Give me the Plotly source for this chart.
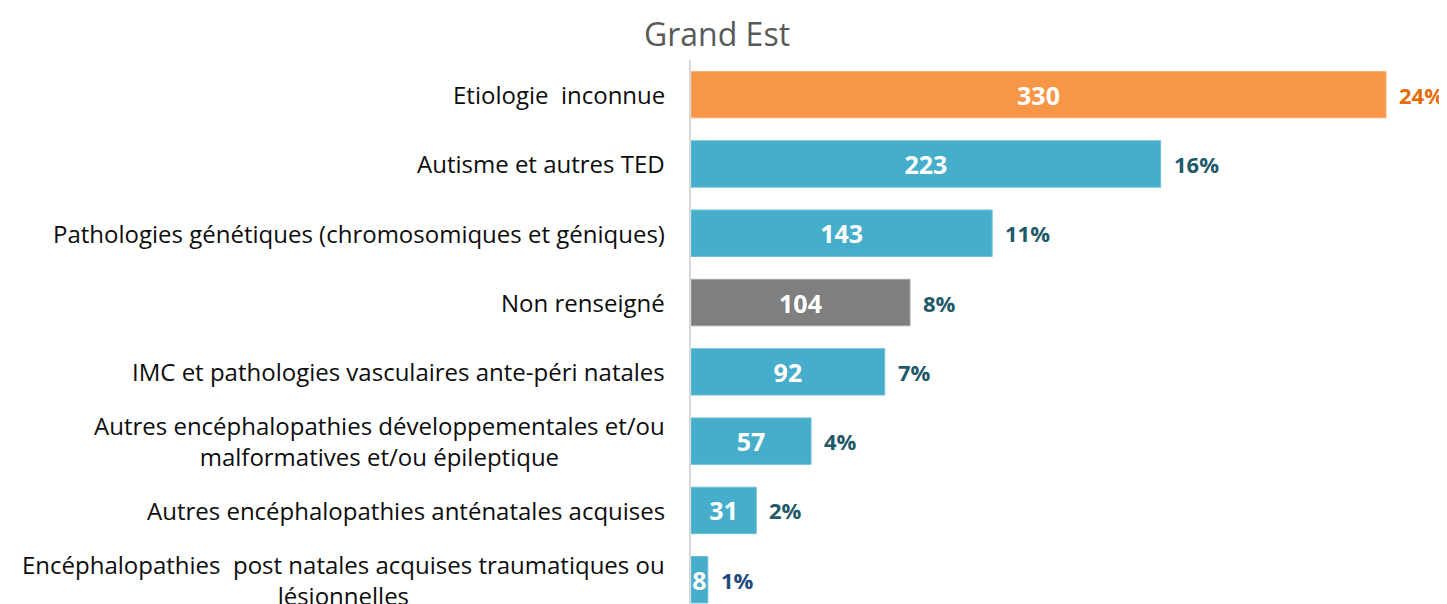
import plotly.graph_objects as go

categories = [
    "Etiologie  inconnue",
    "Autisme et autres TED",
    "Pathologies génétiques (chromosomiques et géniques)",
    "Non renseigné",
    "IMC et pathologies vasculaires ante-péri natales",
    "Autres encéphalopathies développementales et/ou<br>malformatives et/ou épileptique",
    "Autres encéphalopathies anténatales acquises",
    "Encéphalopathies  post natales acquises traumatiques ou<br>lésionnelles",
]
values = [330, 223, 143, 104, 92, 57, 31, 8]
percent_labels = ["24%", "16%", "11%", "8%", "7%", "4%", "2%", "1%"]
bar_colors = ["#F79646", "#46AECB", "#46AECB", "#7F7F7F", "#46AECB", "#46AECB", "#46AECB", "#46AECB"]
line_colors = ["#FBB07A", "#6FC0D6", "#6FC0D6", "#A6A6A6", "#6FC0D6", "#6FC0D6", "#6FC0D6", "#6FC0D6"]
pct_colors = ["#E46C0A", "#215968", "#215968", "#215968", "#215968", "#215968", "#215968", "#1F497D"]

FONT = "Open Sans"

W, H = 1439, 596  # page body has an 8px margin

fig = go.Figure()
fig.add_trace(go.Bar(
    y=categories,
    x=values,
    orientation="h",
    marker=dict(color=bar_colors, line=dict(color=line_colors, width=1)),
    text=[str(v) for v in values],
    textposition="inside",
    insidetextanchor="middle",
    textfont=dict(family=FONT, size=25, color="white", weight="bold"),
    cliponaxis=False,
    width=0.67,
    hoverinfo="skip",
))

annotations = []
for cat, v, p, c in zip(categories, values, percent_labels, pct_colors):
    annotations.append(dict(
        x=v, y=cat, xref="x", yref="y", text=p, showarrow=False,
        xanchor="left", xshift=11,
        font=dict(family=FONT, size=22, color=c, weight="bold"),
    ))
    annotations.append(dict(
        x=0, y=cat, xref="paper", yref="y", text=cat, showarrow=False,
        xanchor="right", xshift=-24, align="center",
        font=dict(family=FONT, size=24, color="#0D0D0D"),
    ))

fig.update_layout(
    width=W, height=H,
    margin=dict(l=683, r=10, t=52, b=0),
    paper_bgcolor="white", plot_bgcolor="white",
    showlegend=False,
    uniformtext=dict(minsize=25, mode="show"),
    title=dict(text="Grand Est", x=709 / W, xanchor="center", y=1 - 27 / H, yanchor="middle",
               yref="container", font=dict(family=FONT, size=32, color="#595959")),
    xaxis=dict(range=[0, 330 * 746 / 695], visible=False, showgrid=False, zeroline=False),
    yaxis=dict(range=[7.35, -0.5], showticklabels=False, ticks="", showgrid=False, zeroline=False,
               showline=True, linecolor="#D9D9D9", linewidth=2),
    annotations=annotations,
)

fig.write_html("out.html")
